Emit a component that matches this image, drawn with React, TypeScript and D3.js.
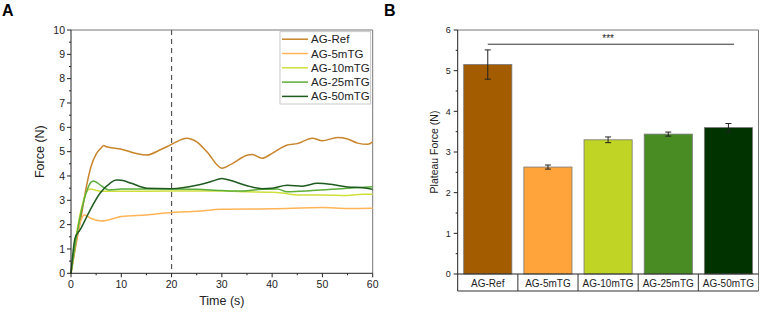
import * as d3 from "d3";
import React from "react";

// ---- data ----
const seriesNames = ["AG-Ref", "AG-5mTG", "AG-10mTG", "AG-25mTG", "AG-50mTG"];
const lineColours = ["#c8852b", "#ffb458", "#cfe03c", "#5cad3c", "#1f5a1f"];
const barColours = ["#a35c00", "#ffa43a", "#bfd424", "#4a8c24", "#003300"];

const refCurve: [number, number][] = [
    [0, 0], [1, 1.2], [2, 2.3], [3, 3.5], [4, 4.4], [5, 4.9], [6, 5.15], [6.5, 5.25], [7, 5.2],
    [10, 5.1], [13, 4.92], [15, 4.86], [18, 5.1], [20, 5.3], [23, 5.55], [25, 5.4], [27, 5.0],
    [30, 4.32], [32, 4.5], [35, 4.85], [36, 4.88], [38, 4.73], [40, 4.93], [43, 5.27], [45, 5.33],
    [48, 5.55], [50, 5.45], [53, 5.58], [55, 5.52], [57, 5.35], [59, 5.3], [60, 5.4],
];
const tg5Curve: [number, number][] = [
    [0, 0], [1, 1.3], [2, 2.2], [2.7, 2.4], [4, 2.25], [6, 2.15], [10, 2.33], [15, 2.4],
    [20, 2.5], [25, 2.55], [30, 2.63], [40, 2.65], [50, 2.7], [55, 2.66], [60, 2.67],
];
const tg10Curve: [number, number][] = [
    [0, 0], [1, 1.5], [2, 2.6], [3, 3.3], [3.8, 3.46], [6, 3.37], [10, 3.37], [20, 3.38],
    [30, 3.38], [35, 3.35], [40, 3.33], [42, 3.3], [45, 3.22], [50, 3.22], [55, 3.2], [58, 3.25], [60, 3.25],
];
const tg25Curve: [number, number][] = [
    [0, 0], [1, 1.4], [2, 2.5], [3, 3.3], [4, 3.75], [4.5, 3.79], [6, 3.6], [7.5, 3.42], [10, 3.46],
    [15, 3.47], [20, 3.47], [25, 3.45], [30, 3.4], [33, 3.38], [38, 3.45], [41, 3.47], [43, 3.35],
    [48, 3.4], [55, 3.5], [60, 3.56],
];
const tg50Curve: [number, number][] = [
    [0, 0], [0.8, 1.44], [1.8, 1.78], [3.8, 2.6], [5.8, 3.3], [7.75, 3.7], [9, 3.83], [10, 3.82],
    [12, 3.7], [15, 3.5], [20, 3.48], [25, 3.62], [28, 3.78], [30, 3.9], [32, 3.8], [35, 3.6],
    [38, 3.48], [40, 3.5], [43, 3.62], [46, 3.58], [49, 3.7], [52, 3.65], [55, 3.55], [58, 3.52], [60, 3.45],
];
const curves = [refCurve, tg5Curve, tg10Curve, tg25Curve, tg50Curve];

const plateauMeans = [5.15, 2.63, 3.30, 3.44, 3.60];
const plateauErrors = [0.36, 0.05, 0.07, 0.05, 0.1];

const font = "'Liberation Sans', Arial, sans-serif";

function PanelA() {
    const x = d3.scaleLinear().domain([0, 60]).range([71, 372.7]);
    const y = d3.scaleLinear().domain([0, 10]).range([273.3, 30]);
    const line = d3.line<[number, number]>()
        .x(d => x(d[0]))
        .y(d => y(d[1]))
        .curve(d3.curveMonotoneX);

    const xMajor = d3.range(0, 61, 10);
    const xMinor = d3.range(5, 60, 10);
    const yMajor = d3.range(0, 11, 1);
    const yMinor = d3.range(0.5, 10, 1);

    const legX = 280, legY = 31.7, legW = 90.7, legH = 72.3;

    return (
        <g fontFamily={font}>
            <text x={2} y={16} fontSize={16} fontWeight="bold">A</text>
            {/* frame */}
            <line x1={x(0)} x2={x(60)} y1={y(10)} y2={y(10)} stroke="#777" strokeWidth={1} />
            <line x1={x(60)} x2={x(60)} y1={y(10)} y2={y(0)} stroke="#777" strokeWidth={1} />

            {/* dashed marker at 20 s */}
            <line x1={x(20)} x2={x(20)} y1={y(10)} y2={y(0)} stroke="#555" strokeWidth={1.2} strokeDasharray="5,4" />

            {curves.map((c, i) => (
                <path key={i} d={line(c) || ""} fill="none" stroke={lineColours[i]} strokeWidth={1.5} />
            ))}

            {/* axes */}
            <line x1={x(0)} x2={x(60)} y1={y(0)} y2={y(0)} stroke="#222" />
            <line x1={x(0)} x2={x(0)} y1={y(0)} y2={y(10)} stroke="#222" />
            {xMajor.map(t => (
                <g key={"xm" + t}>
                    <line x1={x(t)} x2={x(t)} y1={y(0)} y2={y(0) + 4} stroke="#222" />
                    <text x={x(t)} y={y(0) + 15} fontSize={10.5} textAnchor="middle" fill="#222">{t}</text>
                </g>
            ))}
            {xMinor.map(t => (
                <line key={"xn" + t} x1={x(t)} x2={x(t)} y1={y(0)} y2={y(0) + 2} stroke="#222" />
            ))}
            {yMajor.map(v => (
                <g key={"ym" + v}>
                    <line x1={x(0) - 4} x2={x(0)} y1={y(v)} y2={y(v)} stroke="#222" />
                    <text x={x(0) - 6} y={y(v) + 3.6} fontSize={10.5} textAnchor="end" fill="#222">{v}</text>
                </g>
            ))}
            {yMinor.map(v => (
                <line key={"yn" + v} x1={x(0) - 2} x2={x(0)} y1={y(v)} y2={y(v)} stroke="#222" />
            ))}
            <text x={(x(0) + x(60)) / 2} y={305} fontSize={12.5} textAnchor="middle" fill="#222">Time (s)</text>
            <text transform={`translate(44,${(y(0) + y(10)) / 2}) rotate(-90)`} fontSize={12.5} textAnchor="middle" fill="#222">Force (N)</text>

            {/* legend */}
            <rect x={legX} y={legY} width={legW} height={legH} fill="#fff" stroke="#bbb" strokeWidth={0.8} />
            {seriesNames.map((n, i) => {
                const ly = legY + 7.5 + i * 14.3;
                return (
                    <g key={n}>
                        <line x1={legX + 2} x2={legX + 28} y1={ly} y2={ly} stroke={lineColours[i]} strokeWidth={1.5} />
                        <text x={legX + 31} y={ly + 4} fontSize={11.5} fill="#222">{n}</text>
                    </g>
                );
            })}
        </g>
    );
}

function PanelB() {
    const x = d3.scaleBand<string>().domain(seriesNames).range([457.7, 758.5]).paddingInner(0.2).paddingOuter(0.1);
    const y = d3.scaleLinear().domain([0, 6]).range([274, 30]);
    const yMajor = d3.range(0, 7, 1);
    const yMinor = d3.range(0.5, 6, 1);
    const step = x.step();
    const left = 457.7, right = 758.5;
    const boxBottom = 291;
    const sigY = y(5.65);

    return (
        <g fontFamily={font}>
            <text x={384} y={16} fontSize={16} fontWeight="bold">B</text>
            {/* frame */}
            <line x1={left} x2={right} y1={y(6)} y2={y(6)} stroke="#777" />
            <line x1={right} x2={right} y1={y(6)} y2={boxBottom} stroke="#777" />

            {seriesNames.map((n, i) => {
                const bx = x(n) || 0;
                const cx = bx + x.bandwidth() / 2;
                return (
                    <g key={n}>
                        <rect x={bx} y={y(plateauMeans[i])} width={x.bandwidth()} height={y(0) - y(plateauMeans[i])}
                            fill={barColours[i]} stroke="#777" strokeWidth={0.8} />
                        <line x1={cx} x2={cx} y1={y(plateauMeans[i] + plateauErrors[i])} y2={y(plateauMeans[i] - plateauErrors[i])} stroke="#222" strokeWidth={1} />
                        <line x1={cx - 3} x2={cx + 3} y1={y(plateauMeans[i] + plateauErrors[i])} y2={y(plateauMeans[i] + plateauErrors[i])} stroke="#222" strokeWidth={1} />
                        <line x1={cx - 3} x2={cx + 3} y1={y(plateauMeans[i] - plateauErrors[i])} y2={y(plateauMeans[i] - plateauErrors[i])} stroke="#222" strokeWidth={1} />
                    </g>
                );
            })}

            {/* significance bar */}
            <line x1={(x(seriesNames[0]) || 0) + x.bandwidth() / 2} x2={734} y1={sigY} y2={sigY} stroke="#333" strokeWidth={1} />
            <text x={(x(seriesNames[0])! + x(seriesNames[4])! + x.bandwidth()) / 2} y={sigY - 2} fontSize={10} textAnchor="middle" fill="#222">***</text>

            {/* category table */}
            <line x1={left} x2={right} y1={y(0)} y2={y(0)} stroke="#222" />
            <line x1={left} x2={right} y1={boxBottom} y2={boxBottom} stroke="#333" />
            <line x1={left} x2={left} y1={y(6)} y2={boxBottom} stroke="#222" />
            {seriesNames.slice(1).map(n => {
                const sx = (x(n) || 0) - (step - x.bandwidth()) / 2;
                return <line key={"sep" + n} x1={sx} x2={sx} y1={y(0)} y2={boxBottom} stroke="#333" />;
            })}
            {seriesNames.map(n => (
                <text key={"lab" + n} x={(x(n) || 0) + x.bandwidth() / 2} y={y(0) + 12.5} fontSize={10} textAnchor="middle" fill="#222">{n}</text>
            ))}

            {yMajor.map(v => (
                <g key={"ym" + v}>
                    <line x1={left - 4} x2={left} y1={y(v)} y2={y(v)} stroke="#222" />
                    <text x={left - 7} y={y(v) + 3.2} fontSize={9} textAnchor="end" fill="#222">{v}</text>
                </g>
            ))}
            {yMinor.map(v => (
                <line key={"yn" + v} x1={left - 2} x2={left} y1={y(v)} y2={y(v)} stroke="#222" />
            ))}
            <text transform={`translate(438,${(y(0) + y(6)) / 2}) rotate(-90)`} fontSize={10.5} textAnchor="middle" fill="#222">Plateau Force (N)</text>
        </g>
    );
}

export default function App() {
    return (
        <svg width={760} height={313} style={{ position: "absolute", left: 0, top: 0, background: "#fff" }}>
            <rect width={760} height={313} fill="#fff" />
            <PanelA />
            <PanelB />
        </svg>
    );
}
